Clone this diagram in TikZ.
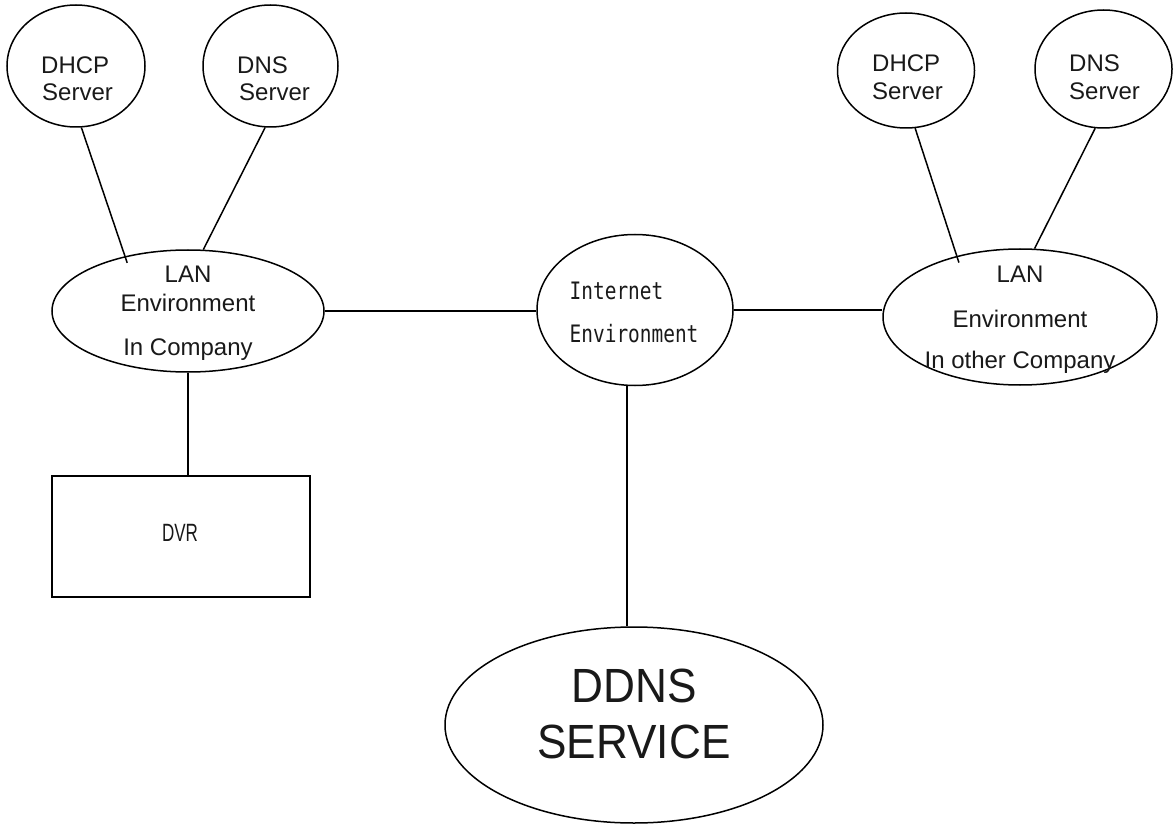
\documentclass[tikz,border=0pt]{standalone}
\usepackage{fontspec}
\usepackage{graphicx}
\setmainfont{Liberation Sans}
\newfontfamily\monofnt{DejaVu Sans Mono}
\newfontfamily\bigfnt[FakeStretch=0.92]{Liberation Sans}
\usetikzlibrary{shapes.geometric}
\begin{document}
\begin{tikzpicture}[x=1pt,y=-1pt,
  oval/.style={ellipse,draw,line width=1.5pt,inner sep=0pt},
  box/.style={rectangle,draw,line width=1.7pt,inner sep=0pt},
  txt/.style={inner sep=0pt,text=black!90,font=\fontsize{24}{28}\selectfont},
  lw/.style={txt,anchor=base west},
  lc/.style={txt,anchor=base},
  mono/.style={inner sep=0pt,anchor=base west,text=black!90,font=\monofnt\fontsize{24}{28}\selectfont},
  narrow/.style={inner sep=0pt,anchor=base,text=black!90,font=\fontsize{25}{28}\selectfont},
  big/.style={inner sep=0pt,anchor=base,text=black!90,font=\bigfnt\fontsize{48}{56}\selectfont},
  link/.style={line width=1.5pt}]
\useasboundingbox (0,0) rectangle (1175,826);

% shapes
\node[oval,minimum width=138pt,minimum height=122pt] (dhcpL) at (76,66) {};
\node[oval,minimum width=135pt,minimum height=122pt] (dnsL) at (270.5,66) {};
\node[oval,minimum width=272pt,minimum height=122pt] (lanL) at (188,311) {};
\node[oval,minimum width=196pt,minimum height=151pt] (inet) at (635,310) {};
\node[oval,minimum width=274pt,minimum height=136pt] (lanR) at (1020,317) {};
\node[oval,minimum width=137pt,minimum height=115pt] (dhcpR) at (906,70.5) {};
\node[oval,minimum width=137pt,minimum height=118pt] (dnsR) at (1103.5,69) {};
\node[box,minimum width=258pt,minimum height=121pt] (dvr) at (181,536.5) {};
\node[oval,minimum width=378pt,minimum height=196pt] (ddns) at (634,725) {};

% texts
\node[lw] (t1) at (41,74) {DHCP};
\node[lw] (t2) at (42,101) {Server};
\node[lw] (t3) at (237,74) {DNS};
\node[lw] (t4) at (239,101) {Server};
\node[lw] (t5) at (872,72) {DHCP};
\node[lw] (t6) at (872,100) {Server};
\node[lw] (t7) at (1069,72) {DNS};
\node[lw] (t8) at (1069,100) {Server};
\node[lc] (t9) at (188,283) {LAN};
\node[lc] (t10) at (188,312) {Environment};
\node[lc] (t11) at (188,355) {In Company};
\node[lc] (t12) at (1020,283) {LAN};
\node[lc] (t13) at (1020,327) {Environment};
\node[lc] (t14) at (1020,368) {In other Company};
\node[mono] (t15) at (569.5,299) {\scalebox{0.81}[1]{Internet}};
\node[mono] (t16) at (569.5,342) {\scalebox{0.81}[1]{Environment}};
\node[narrow] (t17) at (180,541) {\scalebox{0.68}[1]{DVR}};
\node[big] (t18) at (634,702) {DDNS};
\node[big] (t19) at (634,758) {SERVICE};

% connectors
\draw[link,shorten >=-7pt] (dhcpL.-85) -- (lanL.139);
\draw[link] (dnsL.-95) -- (lanL.76);
\draw[link] (lanL.east) -- (lanL.east -| inet.west);
\draw[link] (inet.east) -- (inet.east -| lanR.west);
\draw[link] (lanL.south) -- (lanL.south |- dvr.north);
\draw[link] (inet.-96) -- (inet.-96 |- ddns.north);
\draw[link,shorten >=-7pt] (dhcpR.-81) -- (lanR.136);
\draw[link] (dnsR.-98) -- (lanR.78);
\end{tikzpicture}
\end{document}
